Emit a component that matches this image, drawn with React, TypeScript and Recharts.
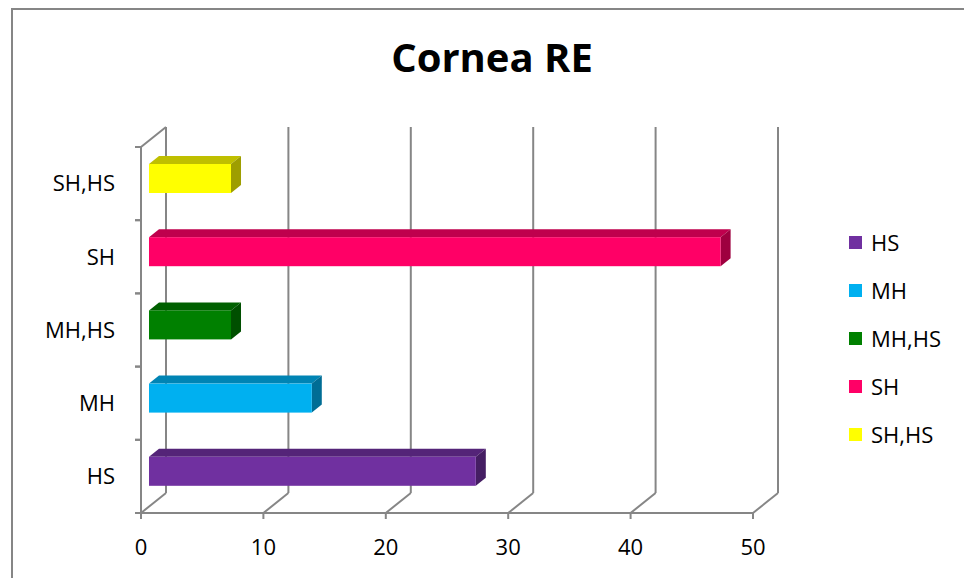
import React from 'react';
import { BarChart, Bar, XAxis, YAxis, CartesianGrid, Cell } from 'recharts';

const categories = ['HS', 'MH', 'MH,HS', 'SH', 'SH,HS'];
const percents = [26.7, 13.3, 6.7, 46.7, 6.7];
const barColors = ['#7030A0', '#00B0F0', '#008000', '#FF0066', '#FFFF00'];
const xTicks = [0, 10, 20, 30, 40, 50];

const data = categories.map((name, i) => ({ name, value: percents[i] }));

const FONT = '"Open Sans", "Liberation Sans", sans-serif';
const GRID = '#868686';
// depth of the back wall and of each bar
const WALL_DX = 25;
const WALL_DY = 20;
const BAR_DX = 10;
const BAR_DY = 8;
const BAR_SHIFT_X = 8;
const BAR_SHIFT_Y = -5;
const Y_TICK_GAP = 26;

const shade = (hex: string, k: number) => {
  const n = parseInt(hex.slice(1), 16);
  const r = Math.round(((n >> 16) & 255) * k);
  const g = Math.round(((n >> 8) & 255) * k);
  const b = Math.round((n & 255) * k);
  return `rgb(${r},${g},${b})`;
};

const Bar3D = (props: any) => {
  const { x, y, width, height, fill } = props;
  if (!width || width <= 0) return null;
  const fx = x + BAR_SHIFT_X;
  const fy = y + BAR_SHIFT_Y;
  const top = `${fx},${fy} ${fx + BAR_DX},${fy - BAR_DY} ${fx + width + BAR_DX},${fy - BAR_DY} ${fx + width},${fy}`;
  const side = `${fx + width},${fy} ${fx + width + BAR_DX},${fy - BAR_DY} ${fx + width + BAR_DX},${fy + height - BAR_DY} ${fx + width},${fy + height}`;
  return (
    <g>
      <polygon points={top} fill={shade(fill, 0.75)} />
      <polygon points={side} fill={shade(fill, 0.62)} />
      <rect x={fx} y={fy} width={width} height={height} fill={fill} />
    </g>
  );
};

const wallLine = (props: any) => {
  const { x1, y1, y2, index } = props;
  return (
    <g key={`wall-${index}`}>
      <line x1={x1 + WALL_DX} y1={y1 - WALL_DY} x2={x1 + WALL_DX} y2={y2 - WALL_DY} stroke={GRID} strokeWidth={2} />
      <line x1={x1} y1={y2} x2={x1 + WALL_DX} y2={y2 - WALL_DY} stroke={GRID} strokeWidth={2} />
      {index === 0 && (
        <line x1={x1} y1={y1} x2={x1 + WALL_DX} y2={y1 - WALL_DY} stroke={GRID} strokeWidth={2} />
      )}
    </g>
  );
};

const CategoryTick = (props: any) => {
  const { x, y, payload } = props;
  const half = payload?.offset ?? 36.6;
  const ax = x + Y_TICK_GAP;
  return (
    <g>
      <line x1={ax - 6} y1={y - half} x2={ax} y2={y - half} stroke={GRID} strokeWidth={2} />
      <line x1={ax - 6} y1={y + half} x2={ax} y2={y + half} stroke={GRID} strokeWidth={2} />
      <text x={x} y={y} dy="0.35em" textAnchor="end" fill="#000" fontSize={22} fontFamily={FONT}>
        {payload.value}
      </text>
    </g>
  );
};

export default function App() {
  return (
    <div style={{ position: 'relative', width: 964, height: 578, overflow: 'hidden', background: '#fff' }}>
      <style>{`body{margin:0}`}</style>
      <div
        style={{
          position: 'absolute',
          left: 11,
          top: 8,
          width: 1100,
          height: 1100,
          border: `2px solid ${GRID}`,
        }}
      />
      <div
        style={{
          position: 'absolute',
          left: 0,
          width: 984,
          top: 29,
          textAlign: 'center',
          fontFamily: FONT,
          fontWeight: 700,
          fontSize: 40,
          lineHeight: '56px',
          color: '#000',
        }}
      >
        Cornea RE
      </div>
      <div style={{ position: 'absolute', left: 0, top: 0 }}>
        <BarChart
          layout="vertical"
          width={964}
          height={578}
          data={data}
          margin={{ top: 147, right: 211, bottom: 35, left: 81 }}
          style={{ fontFamily: FONT }}
        >
          <CartesianGrid horizontal={false} vertical={wallLine} />
          <XAxis
            type="number"
            domain={[0, 50]}
            ticks={xTicks}
            interval={0}
            axisLine={{ stroke: GRID, strokeWidth: 2 }}
            tickLine={{ stroke: GRID, strokeWidth: 2 }}
            tickSize={6}
            tickMargin={20}
            tick={{ fill: '#000', fontSize: 22, fontFamily: FONT }}
          />
          <YAxis
            type="category"
            dataKey="name"
            reversed
            width={60}
            axisLine={{ stroke: GRID, strokeWidth: 2 }}
            tickLine={false}
            tickSize={6}
            tickMargin={20}
            tick={<CategoryTick />}
          />
          <Bar dataKey="value" barSize={29} shape={<Bar3D />} isAnimationActive={false}>
            {data.map((d, i) => (
              <Cell key={d.name} fill={barColors[i]} />
            ))}
          </Bar>
        </BarChart>
      </div>
      <div style={{ position: 'absolute', left: 849, top: 218, fontFamily: FONT, fontSize: 22, color: '#000' }}>
        {categories.map((c, i) => (
          <div key={c} style={{ display: 'flex', alignItems: 'center', height: 48 }}>
            <span style={{ width: 13, height: 13, background: barColors[i], marginRight: 9, display: 'inline-block' }} />
            <span style={{ lineHeight: '24px' }}>{c}</span>
          </div>
        ))}
      </div>
    </div>
  );
}
